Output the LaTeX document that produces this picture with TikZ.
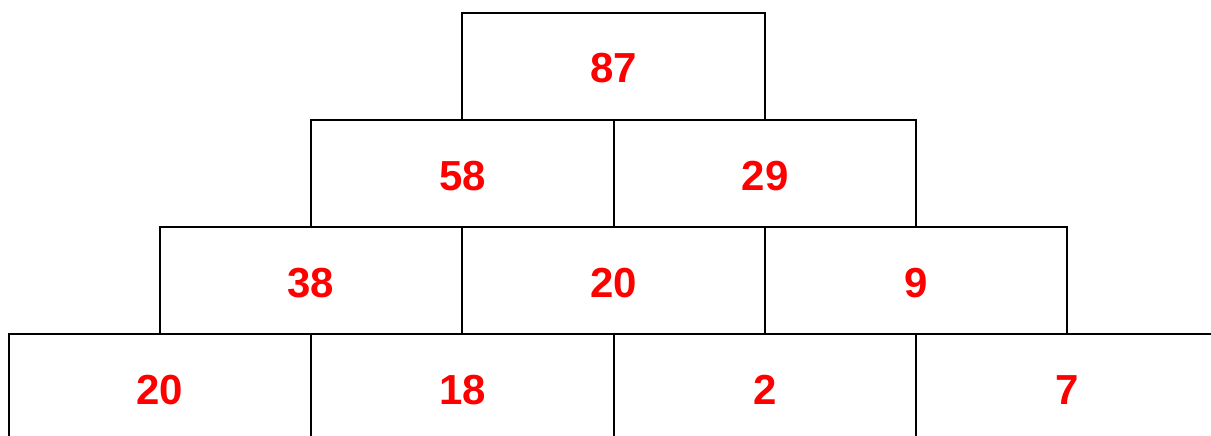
\documentclass[tikz,border=0pt]{standalone}
\usepackage{fontspec}
\setmainfont{Liberation Sans}
\usepackage{xcolor}
\usetikzlibrary{positioning}
\definecolor{NumRed}{RGB}{255,0,0}

\begin{document}
\begin{tikzpicture}[x=1pt, y=-1pt,
		brick/.style={draw, line width=2pt, minimum width=302.5pt, minimum height=107pt, inner sep=0pt, outer sep=0pt, text height=33pt, text depth=0pt, text=NumRed, font=\fontsize{42}{50}\selectfont\bfseries}]
		\useasboundingbox (0,0) rectangle (1211,436);
		\clip (0,0) rectangle (1211,436);
		% bottom row
		\node[brick] (d1) at (160,387.5) {20};
		\node[brick] (d2) at (462.5,387.5) {18};
		\node[brick] (d3) at (765,387.5) {2};
		\node[brick] (d4) at (1067.5,387.5) {7};
		% third row
		\node[brick] (c1) at (311,280.5) {38};
		\node[brick] (c2) at (613.5,280.5) {20};
		\node[brick] (c3) at (916,280.5) {9};
		% second row
		\node[brick] (b1) at (462.5,173.5) {58};
		\node[brick] (b2) at (765,173.5) {29};
		% top
		\node[brick] (a1) at (613.5,66.5) {87};
	\end{tikzpicture}
\end{document}
